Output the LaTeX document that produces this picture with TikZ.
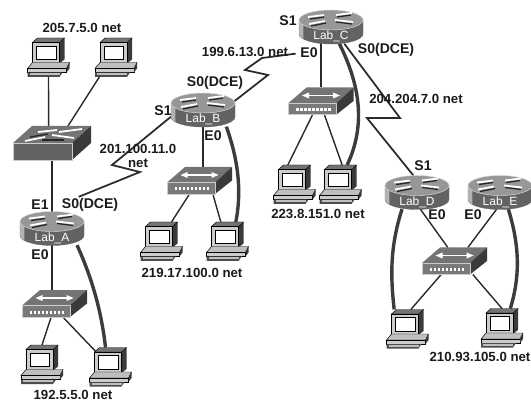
\documentclass[tikz,border=0pt]{standalone}
\usepackage{fontspec}
\setmainfont{Liberation Sans}
\usetikzlibrary{backgrounds,calc}
\definecolor{ink}{HTML}{1A1A1A}
\definecolor{wire}{HTML}{2A2A2A}
\definecolor{thickwire}{HTML}{3C3C3C}
\definecolor{routertop}{HTML}{979797}
\definecolor{bodygray}{HTML}{636363}
\definecolor{topgray}{HTML}{747474}
\definecolor{frontgray}{HTML}{7A7A7A}
\definecolor{sidegray}{HTML}{3A3A3A}
\definecolor{shellgray}{HTML}{CCCCCC}
\tikzset{
  netlabel/.style={font=\bfseries\fontsize{11.3}{12.5}\selectfont,text=ink,inner sep=0pt,align=center},
  portlabel/.style={font=\bfseries\fontsize{12}{13}\selectfont,text=ink,inner sep=0pt},
  lab/.style={font=\fontsize{10.2}{11}\selectfont,text=white,inner sep=0pt},
  iconbox/.style={inner sep=0pt,outer sep=0pt},
  link/.style={draw=wire,line width=1.2pt},
  serial/.style={draw=wire,line width=1.5pt,line join=miter},
  fat/.style={draw=thickwire,line width=2.9pt},
  glint/.style={draw=white,line width=1.5pt},
  darkstroke/.style={draw=black!85,line width=1.1pt},
  pics/router/.style={code={
    \node[iconbox,minimum width=1.92cm,minimum height=1cm] (-box) at (0,0) {};
    \fill[bodygray,draw=black!60,line width=0.3pt] (-32,-7) -- (-32,7) arc[start angle=180,end angle=0,x radius=32,y radius=10] -- (32,-7) -- cycle;
    \fill[black!30] (-32,-7) -- (-32,7) arc[start angle=180,end angle=150,x radius=32,y radius=10] -- ++(0,-14) -- cycle;
    \fill[routertop,draw=white!85!black,line width=0.4pt] (0,-7) ellipse[x radius=32,y radius=10];
    \draw[darkstroke] (-21,-8) -- (-7,-10); \draw[darkstroke] (5,-5) -- (21,-3); \draw[darkstroke] (-20,-1) -- (-5,-4); \draw[darkstroke] (6,-10) -- (20,-12);
    \draw[glint] (-23,-10) -- (-7,-12); \draw[glint] (4,-7) -- (22,-5); \draw[glint] (-22,-3) -- (-6,-6); \draw[glint] (5,-12) -- (21,-14);
    \node[lab] (-txt) at (0,9.5) {#1};
  }},
  pics/bigswitch/.style={code={
    \node[iconbox,minimum width=2.34cm,minimum height=1.02cm] (-box) at (0,0) {};
    \fill[topgray] (-39,0) -- (-20,-17) -- (39,-17) -- (20,0) -- cycle;
    \fill[sidegray] (20,0) -- (39,-17) -- (39,0) -- (20,17) -- cycle;
    \fill[bodygray,draw=shellgray,line width=0.5pt] (-39,0) rectangle (20,17);
    \draw[darkstroke] (-22,-6) -- (-4,-9); \draw[darkstroke] (-10,-3) -- (12,-3);
    \draw[glint] (-27,-2) -- (-7,-6); \draw[glint] (0,-8) -- (22,-5);
    \draw[glint] (-14,-11) -- (5,-13); \draw[glint] (7,-11) -- (30,-14);
  }},
  pics/hub/.style={code={
    \node[iconbox,minimum width=1.95cm,minimum height=0.81cm] (-box) at (0,0) {};
    \fill[topgray] (-32.5,2) -- (-14.5,-13.5) -- (32.5,-13.5) -- (15.5,2) -- cycle;
    \fill[sidegray] (15.5,2) -- (32.5,-13.5) -- (32.5,0) -- (15.5,13.5) -- cycle;
    \fill[frontgray,draw=shellgray,line width=0.5pt] (-32.5,2) rectangle (15.5,13.5);
    \draw[glint,line width=1pt] (-14,-5.5) -- (14,-5.5);
    \fill[white] (-19,-5.5) -- (-12,-8.5) -- (-12,-2.5) -- cycle;
    \fill[white] (19,-5.5) -- (12,-8.5) -- (12,-2.5) -- cycle;
    \foreach \dotx in {-25,-21,...,7} {\fill[white] (\dotx,7) rectangle ++(2.6,3);}
  }},
  pics/pc/.style={code={
    \node[iconbox,minimum width=1.29cm,minimum height=1.17cm] (-box) at (0,0) {};
    \fill[sidegray] (11,-15) -- (16,-19.5) -- (16,2) -- (11,6) -- cycle;
    \fill[black!55,draw=black,line width=0.4pt] (-16,-15) -- (-11,-19.5) -- (16,-19.5) -- (11,-15) -- cycle;
    \fill[shellgray,draw=black,line width=0.5pt] (-16,-15) rectangle (11,6);
    \fill[white,draw=black,line width=0.7pt] (-12,-11.5) rectangle (7.5,2);
    \fill[black!25,draw=black,line width=0.4pt] (-21,11) -- (-16,5) -- (21,5) -- (18,11) -- cycle;
    \fill[shellgray,draw=black,line width=0.4pt] (-21,11) rectangle (18,15);
    \fill[sidegray] (18,15) -- (21,11) -- (21,5) -- (18,11) -- cycle;
    \fill[black!70] (-21,15) -- (14,15) -- (11,19.5) -- (-21,19.5) -- cycle;
    \fill[black!25] (-19,15.5) rectangle (11,17.5);
  }}
}
\begin{document}
\begin{tikzpicture}[x=0.03cm,y=-0.03cm]
\useasboundingbox (0,0) rectangle (531,401);
% top left group
\pic (pcNa) at (48.5,57.5) {pc}; \pic (pcNb) at (116,57.5) {pc};
\pic (swN) at (52,143) {bigswitch};
\pic (labA) at (52,228.5) {router={Lab\_A}};
\pic (hubA) at (54.5,303.5) {hub};
\pic (pcAa) at (42,364.5) {pc}; \pic (pcAb) at (110.5,367) {pc};
% middle group
\pic (labB) at (203,110) {router={Lab\_B}};
\pic (hubB) at (199.5,180.5) {hub};
\pic (pcBa) at (161.5,241.5) {pc}; \pic (pcBb) at (227.5,241.5) {pc};
\pic (labC) at (331,27) {router={Lab\_C}};
\pic (hubC) at (321,101) {hub};
\pic (pcCa) at (294.5,184.5) {pc}; \pic (pcCb) at (340.5,184.5) {pc};
% right group
\pic (labD) at (417,192.5) {router={Lab\_D}};
\pic (labE) at (500,192.5) {router={Lab\_E}};
\pic (hubD) at (454.5,261) {hub};
\pic (pcDa) at (407.5,329) {pc}; \pic (pcDb) at (502,328) {pc};
% zigzag corners
\coordinate (zabA) at (140,172); \coordinate (zabB) at (112,165);
\coordinate (zbcA) at (268,75); \coordinate (zbcB) at (245,70); \coordinate (zbcC) at (262,58);
\coordinate (zcdA) at (400,118); \coordinate (zcdB) at (367,118);
% wires stay under the icons
\begin{scope}[on background layer]
\draw[link] (pcNa-box.south) -- ([xshift=-0.1cm]swN-box.north);
\draw[link] ([xshift=-0.5cm]pcNb-box.south) -- ([xshift=0.48cm]swN-box.north);
\draw[link] (swN-box.center) -- (labA-box.center);
\draw[link] (labA-box.center) -- (hubA-box.north -| labA-box.center);
\draw[link] ([xshift=-0.1cm]hubA-box.south) -- (pcAa-box.north);
\draw[link] ([xshift=0.25cm]hubA-box.south) -- (pcAb-box.center);
\draw[fat] ([xshift=0.75cm]labA-box.south) .. controls (93,280) and (102,315) .. ([xshift=-0.15cm]pcAb-box.north);
\draw[serial] ([xshift=0.8cm,yshift=0.45cm]labA-box.north) -- (zabA) -- (zabB) -- ([yshift=-0.2cm]labB-box.west);
\draw[serial] ([xshift=-0.1cm,yshift=0.2cm]labB-box.east) -- (zbcA) -- (zbcB) -- (zbcC) -- ([xshift=-0.1cm,yshift=-0.3cm]labC-box.south west);
\draw[link] (labB-box.center) -- (hubB-box.center -| labB-box.center);
\draw[link] ([xshift=-0.3cm]hubB-box.south) -- ([xshift=0.3cm]pcBa-box.north);
\draw[link] ([xshift=0.4cm]hubB-box.south) -- ([xshift=-0.2cm]pcBb-box.north);
\draw[fat] ([xshift=0.7cm]labB-box.south) .. controls (240,165) and (241,195) .. ([xshift=0.25cm]pcBb-box.north);
\draw[link] (labC-box.center -| hubC-box.north) -- (hubC-box.north);
\draw[link] ([xshift=-0.25cm]hubC-box.south) -- ([xshift=-0.2cm]pcCa-box.north);
\draw[link] ([xshift=0.1cm]hubC-box.south) -- ([xshift=0.05cm]pcCb-box.north);
\draw[fat] ([xshift=0.25cm]labC-box.south) .. controls (360,85) and (366,125) .. ([xshift=0.2cm]pcCb-box.north);
\draw[serial] ([xshift=0.4cm]labC-box.south) -- (zcdA) -- (zcdB) -- ([xshift=-0.1cm]labD-box.north);
\draw[link] ([xshift=0.1cm]labD-box.south) -- ([xshift=-0.2cm]hubD-box.north);
\draw[link] ([xshift=-0.1cm]labE-box.south) -- ([xshift=0.4cm]hubD-box.north);
\draw[link] ([xshift=-0.4cm]hubD-box.south) -- ([xshift=0.1cm]pcDa-box.north);
\draw[link] ([xshift=0.55cm]hubD-box.south) -- (pcDb-box.north);
\draw[fat] ([xshift=-0.45cm]labD-box.south) .. controls (389,250) and (391,280) .. ([xshift=-0.4cm]pcDa-box.north);
\draw[fat] ([xshift=0.25cm]labE-box.south) .. controls (521,250) and (519,280) .. ([xshift=0.25cm]pcDb-box.north);
\end{scope}
% labels
\node[netlabel] (netN) at (82,28) {205.7.5.0 net};
\node[netlabel] (netAB) at (138,156) {201.100.11.0\\net};
\node[netlabel] (netBC) at (245,52) {199.6.13.0 net};
\node[netlabel] (netA) at (73,395) {192.5.5.0 net};
\node[netlabel] (netB) at (192,273) {219.17.100.0 net};
\node[netlabel] (netC) at (318,214) {223.8.151.0 net};
\node[netlabel] (netCD) at (416,99) {204.204.7.0 net};
\node[netlabel] (netD) at (480,357) {210.93.105.0 net};
\node[portlabel] (portAe) at (40,205) {E1};
\node[portlabel] (portAs) at (90,205) {S0(DCE)};
\node[portlabel] (portAz) at (40,255) {E0};
\node[portlabel] (portBd) at (215,83) {S0(DCE)};
\node[portlabel] (portBs) at (163,111) {S1};
\node[portlabel] (portBe) at (213,136) {E0};
\node[portlabel] (portCs) at (288,21) {S1};
\node[portlabel] (portCe) at (309,53) {E0};
\node[portlabel] (portCd) at (386,50) {S0(DCE)};
\node[portlabel] (portDs) at (423,166) {S1};
\node[portlabel] (portDe) at (437,215) {E0};
\node[portlabel] (portEe) at (473,215) {E0};
\end{tikzpicture}
\end{document}
